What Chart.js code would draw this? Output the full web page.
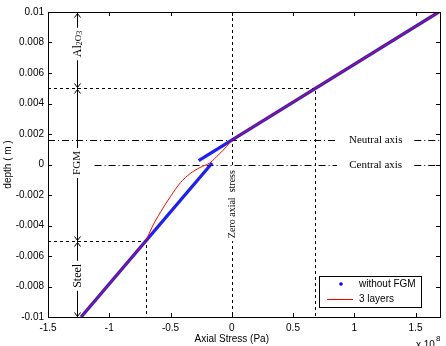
<!DOCTYPE html>
<html><head><meta charset="utf-8">
<script src="https://cdn.jsdelivr.net/npm/chart.js@4/dist/chart.umd.min.js"></script>
<style>html,body{margin:0;padding:0;background:#fff}canvas{display:block}</style>
</head><body>
<canvas id="c" width="446" height="346"></canvas>
<script>
// ---- data ----
const xTicks = [-1.5, -1, -0.5, 0, 0.5, 1, 1.5];
const yTicks = [-0.01, -0.008, -0.006, -0.004, -0.002, 0, 0.002, 0.004, 0.006, 0.008, 0.01];
// without FGM (two straight branches)
const noFGMSteelX = [-1.23, -0.16];
const noFGMSteelY = [-0.01, 0.0001];
const noFGMAlX = [-0.27, 1.69];
const noFGMAlY = [0.00025, 0.01];
// 3 layers (steel part, graded part, alumina part)
const layers3SteelX = [-1.23, -0.70];
const layers3SteelY = [-0.01, -0.005];
const layers3FgmX = [-0.70, -0.65, -0.58, -0.50, -0.42, -0.34, -0.26, -0.18, -0.10, -0.04, 0];
const layers3FgmY = [-0.005, -0.0041, -0.0031, -0.0021, -0.0012, -0.0006, -0.0002, 0.0001, 0.0007, 0.0012, 0.0016];
const layers3AlX = [0, 1.69];
const layers3AlY = [0.0016, 0.01];
const neutralAxis = 0.0016;
const centralAxis = 0;
const zeroStress = 0;
const layerBounds = [0.01, 0.005, -0.005, -0.01];
const steelFGM = {x: -0.70, y: -0.005};
const fgmAl = {x: 0.68, y: 0.005};
const dimX = -1.263;
const axisLabelGapX = [0.86, 1.49];
const centralStartX = -1.12;
const legendLabels = ['without FGM', '3 layers'];

const pts = (xs, ys) => xs.map((x, i) => ({x, y: ys[i]}));
const SANS = '"Liberation Sans", Arial, sans-serif';
const SERIF = '"Liberation Serif", "Times New Roman", serif';

function vText(ctx, parts, x, y) {
  ctx.save();
  ctx.translate(x, y);
  ctx.rotate(-Math.PI / 2);
  let w = 0;
  parts.forEach(p => { ctx.font = p.size + 'px ' + SERIF; p.w = ctx.measureText(p.t).width; w += p.w; });
  ctx.fillStyle = '#fff';
  ctx.fillRect(-w / 2 - 3, -6, w + 6, 12);
  ctx.fillStyle = '#000';
  ctx.textBaseline = 'middle';
  ctx.textAlign = 'left';
  let cx = -w / 2;
  parts.forEach(p => { ctx.font = p.size + 'px ' + SERIF; ctx.fillText(p.t, cx, p.dy || 0); cx += p.w; });
  ctx.restore();
}

function arrowHead(ctx, x, y, dir) {
  ctx.beginPath();
  ctx.moveTo(x - 3, y - dir * 4);
  ctx.lineTo(x, y);
  ctx.lineTo(x + 3, y - dir * 4);
  ctx.stroke();
}

const deco = {
  id: 'deco',
  beforeDatasetsDraw(chart) {
    const {ctx, chartArea: a, scales: {x, y}} = chart;
    ctx.save();
    ctx.strokeStyle = '#000';
    ctx.lineWidth = 1;
    const X = v => Math.round(x.getPixelForValue(v)) + 0.5;
    const Y = v => Math.round(y.getPixelForValue(v)) + 0.5;
    ctx.setLineDash([3, 3]);
    ctx.beginPath();
    ctx.moveTo(a.left, Y(fgmAl.y)); ctx.lineTo(X(fgmAl.x), Y(fgmAl.y)); ctx.lineTo(X(fgmAl.x), a.bottom);
    ctx.moveTo(a.left, Y(steelFGM.y)); ctx.lineTo(X(steelFGM.x), Y(steelFGM.y)); ctx.lineTo(X(steelFGM.x), a.bottom);
    ctx.moveTo(X(zeroStress), a.top); ctx.lineTo(X(zeroStress), a.bottom);
    ctx.stroke();
    ctx.setLineDash([7, 3, 1, 3]);
    ctx.beginPath();
    ctx.moveTo(a.left, Y(neutralAxis)); ctx.lineTo(x.getPixelForValue(axisLabelGapX[0]), Y(neutralAxis));
    ctx.moveTo(x.getPixelForValue(axisLabelGapX[1]), Y(neutralAxis)); ctx.lineTo(a.right, Y(neutralAxis));
    ctx.moveTo(x.getPixelForValue(centralStartX), Y(centralAxis)); ctx.lineTo(x.getPixelForValue(axisLabelGapX[0]), Y(centralAxis));
    ctx.moveTo(x.getPixelForValue(axisLabelGapX[1]), Y(centralAxis)); ctx.lineTo(a.right, Y(centralAxis));
    ctx.stroke();
    ctx.setLineDash([]);
    ctx.fillStyle = '#000';
    ctx.font = '11px ' + SERIF;
    ctx.textAlign = 'center';
    ctx.textBaseline = 'middle';
    const mid = x.getPixelForValue((axisLabelGapX[0] + axisLabelGapX[1]) / 2);
    ctx.fillText('Neutral axis', mid, Y(neutralAxis));
    ctx.fillText('Central axis', mid, Y(centralAxis));
    const dx = X(dimX);
    ctx.beginPath();
    ctx.moveTo(dx, Y(layerBounds[0])); ctx.lineTo(dx, Y(layerBounds[3]));
    ctx.stroke();
    for (let i = 0; i < 3; i++) {
      const yt = Y(layerBounds[i]), yb = Y(layerBounds[i + 1]);
      arrowHead(ctx, dx, yt + 1, -1);
      arrowHead(ctx, dx, yb - 1, 1);
    }
    vText(ctx, [{t: 'Al', size: 12}, {t: '2', size: 8, dy: 2}, {t: 'O', size: 9, dy: 1}, {t: '3', size: 8, dy: 2}], dx, y.getPixelForValue(0.0079));
    vText(ctx, [{t: 'FGM', size: 11}], dx, y.getPixelForValue(0.0001));
    vText(ctx, [{t: 'Steel', size: 12}], dx, y.getPixelForValue(-0.0073));
    vText(ctx, [{t: 'Zero axial  stress', size: 10}], X(zeroStress), y.getPixelForValue(-0.0026));
    ctx.restore();
  },
  afterDraw(chart) {
    const {ctx, chartArea: a, scales: {x, y}} = chart;
    ctx.save();
    ctx.strokeStyle = '#000';
    ctx.lineWidth = 1;
    ctx.strokeRect(Math.round(a.left) + 0.5, Math.round(a.top) + 0.5, Math.round(a.right - a.left), Math.round(a.bottom - a.top));
    ctx.beginPath();
    xTicks.forEach(v => {
      const px = Math.round(x.getPixelForValue(v)) + 0.5;
      ctx.moveTo(px, a.bottom); ctx.lineTo(px, a.bottom - 4);
      ctx.moveTo(px, a.top); ctx.lineTo(px, a.top + 4);
    });
    yTicks.forEach(v => {
      const py = Math.round(y.getPixelForValue(v)) + 0.5;
      ctx.moveTo(a.left, py); ctx.lineTo(a.left + 4, py);
      ctx.moveTo(a.right, py); ctx.lineTo(a.right - 4, py);
    });
    ctx.stroke();
    ctx.fillStyle = '#000';
    ctx.font = '10px ' + SANS;
    ctx.textAlign = 'center';
    ctx.textBaseline = 'middle';
    ctx.fillText('Axial Stress (Pa)', x.getPixelForValue(0), 339);
    ctx.save();
    ctx.translate(8, (a.top + a.bottom) / 2);
    ctx.rotate(-Math.PI / 2);
    ctx.fillText('depth ( m )', 0, 0);
    ctx.restore();
    ctx.textAlign = 'left';
    ctx.fillText('x 10', 416, 345);
    ctx.font = '8px ' + SANS;
    ctx.fillText('8', 436, 339);
    // legend
    const lx = 319, ly = 276, lw = 102, lh = 31;
    ctx.fillStyle = '#fff';
    ctx.fillRect(lx, ly, lw, lh);
    ctx.strokeStyle = '#000';
    ctx.strokeRect(lx + 0.5, ly + 0.5, lw, lh);
    ctx.fillStyle = '#0000ff';
    ctx.beginPath(); ctx.arc(341, 284, 1.8, 0, Math.PI * 2); ctx.fill();
    ctx.fillStyle = '#ff0000';
    ctx.fillRect(327, 299, 26, 1);
    ctx.fillStyle = '#000';
    ctx.font = '10px ' + SANS;
    ctx.textAlign = 'left';
    ctx.fillText(legendLabels[0], 359, 284);
    ctx.fillText(legendLabels[1], 359, 299);
    ctx.restore();
  }
};

const red = {showLine: true, borderColor: '#ff0000', borderWidth: 1, pointRadius: 0, order: 0};
const blue = {showLine: true, borderColor: 'rgba(20,20,235,0.95)', borderWidth: 3.3, pointRadius: 0, order: 1};

new Chart(document.getElementById('c'), {
  type: 'scatter',
  data: {
    datasets: [
      Object.assign({label: legendLabels[1], data: pts(layers3SteelX, layers3SteelY)}, red),
      Object.assign({label: legendLabels[1], data: pts(layers3FgmX, layers3FgmY), cubicInterpolationMode: 'monotone'}, red),
      Object.assign({label: legendLabels[1], data: pts(layers3AlX, layers3AlY)}, red),
      Object.assign({label: legendLabels[0], data: pts(noFGMSteelX, noFGMSteelY)}, blue),
      Object.assign({label: legendLabels[0], data: pts(noFGMAlX, noFGMAlY)}, blue)
    ]
  },
  options: {
    responsive: false,
    animation: false,
    devicePixelRatio: 1,
    layout: {padding: {top: 12, right: 6, left: 0, bottom: 0}},
    plugins: {legend: {display: false}, tooltip: {enabled: false}},
    scales: {
      x: {
        type: 'linear', min: -1.5, max: 1.7,
        afterBuildTicks: s => { s.ticks = xTicks.map(v => ({value: v})); },
        afterFit: s => { s.height = 29; },
        grid: {display: true, drawOnChartArea: false, drawTicks: false},
        border: {display: false},
        ticks: {padding: 5, color: '#000', font: {size: 10, family: SANS}, maxRotation: 0,
          callback: v => String(v)}
      },
      y: {
        type: 'linear', min: -0.01, max: 0.01,
        afterBuildTicks: s => { s.ticks = yTicks.map(v => ({value: v})); },
        afterFit: s => { s.width = 48; },
        grid: {display: true, drawOnChartArea: false, drawTicks: false},
        border: {display: false},
        ticks: {padding: 4, color: '#000', font: {size: 10, family: SANS},
          callback: v => v === 0 ? '0' : String(+v.toFixed(3))}
      }
    }
  },
  plugins: [deco]
});
</script>
</body></html>
